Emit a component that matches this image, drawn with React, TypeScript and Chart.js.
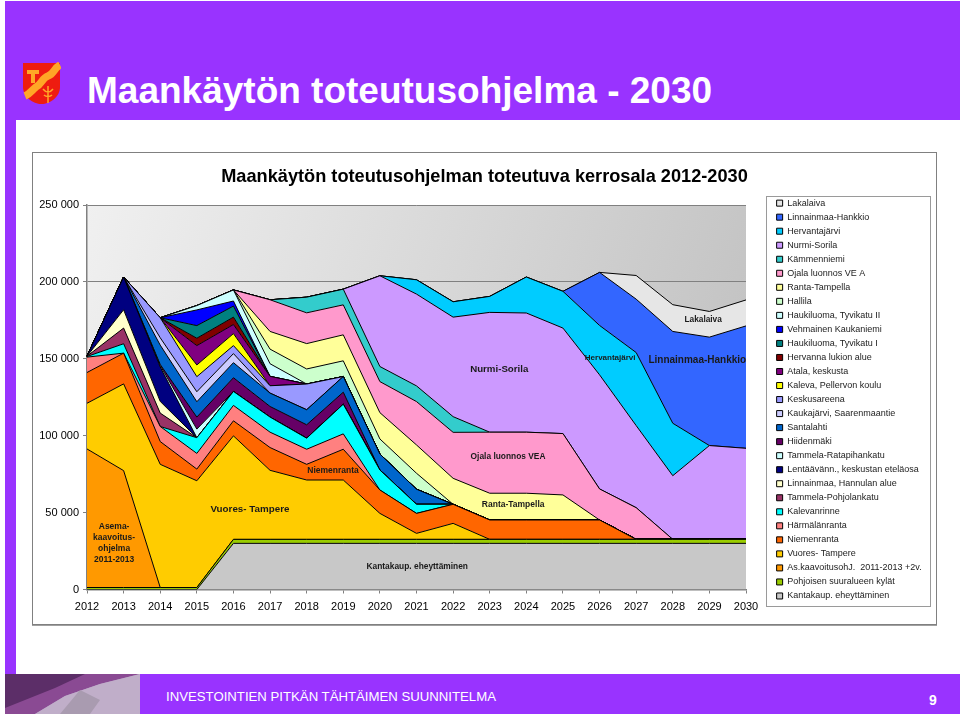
import React, { useEffect, useRef } from "react";
import { Chart, registerables } from "chart.js";

Chart.register(...registerables);

const years = ["2012","2013","2014","2015","2016","2017","2018","2019","2020","2021","2022","2023","2024","2025","2026","2027","2028","2029","2030"];

const kantakaup = [0,0,0,0,30000,30000,30000,30000,30000,30000,30000,30000,30000,30000,30000,30000,30000,30000,30000];
const pohjoisen = [1300,1300,1300,1300,2600,2600,2600,2600,2600,2600,2600,2600,2600,2600,2600,2600,2600,2600,2600];
const asKaavoitus = [90100,76000,0,0,0,0,0,0,0,0,0,0,0,0,0,0,0,0,0];
const vuores = [29700,56400,80100,69400,67300,44900,38600,38600,16900,3900,10400,0,0,0,0,0,0,0,0];
const niemenranta = [20000,20000,14800,7600,9800,14800,10200,20000,15200,13000,12400,12600,12600,12600,12600,0,0,0,0];
const harmalanranta = [10000,0,9800,10200,10000,10000,9800,10000,0,0,0,0,0,0,0,0,0,0,0];
const kalevanrinne = [400,6100,0,10200,9100,9800,7200,19300,13000,5900,0,0,0,0,0,0,0,0,0];
const tammelaPohjolankatu = [200,10200,8700,0,0,0,0,0,0,0,0,0,0,0,0,0,0,0,0];
const linnainmaaHannula = [0,11900,7600,0,0,0,0,0,0,0,0,0,0,0,0,0,0,0,0];
const lentoasema = [0,21300,22400,0,0,0,0,0,0,0,0,0,0,0,0,0,0,0,0];
const tammelaRatapiha = [0,0,900,5600,0,0,0,0,0,0,0,0,0,0,0,0,0,0,0];
const hiidenmaki = [0,0,700,7800,8900,6900,8700,7800,0,0,0,0,0,0,0,0,0,0,0];
const santalahti = [0,0,12600,10000,9800,8700,9800,10200,10400,9800,0,0,0,0,0,0,0,0,0];
const kaukajarvi = [0,0,4800,6500,5900,0,0,0,0,0,0,0,0,0,0,0,0,0,0];
const keskusareena = [0,0,13000,9800,5200,4800,16700,0,0,0,0,0,0,0,0,0,0,0,0];
const kaleva = [0,0,0,7600,7800,0,0,0,0,0,0,0,0,0,0,0,0,0,0];
const atala = [0,0,0,12600,5900,6100,0,0,0,0,0,0,0,0,0,0,0,0,0];
const hervannaLukio = [0,0,0,4800,4800,0,0,0,0,0,0,0,0,0,0,0,0,0,0];
const haukiluomaI = [0,0,0,8200,7200,0,0,0,0,0,0,0,0,0,0,0,0,0,0];
const vehmainen = [0,0,0,10200,3300,0,0,0,0,0,0,0,0,0,0,0,0,0,0];
const haukiluomaII = [0,0,0,2800,7200,8200,0,0,0,0,0,0,0,0,0,0,0,0,0];
const hallila = [0,0,0,0,0,9500,9800,10200,9800,10400,0,0,0,0,0,0,0,0,0];
const rantaTampella = [0,0,0,0,0,11500,16500,16900,17100,18400,16900,17400,17400,16300,0,0,0,0,0];
const ojala = [0,0,0,0,0,20600,20000,19500,20200,28200,29900,39700,39700,39900,20200,20600,0,0,0];
const kammenniemi = [0,0,0,0,0,0,10200,10200,9800,10200,10200,0,0,0,0,0,0,0,0];
const nurmiSorila = [0,0,0,0,0,0,0,0,59000,59700,64700,77900,77500,68600,74200,53400,41400,61000,59200];
const hervantajarvi = [0,0,0,0,0,0,0,0,0,9300,10000,10400,23400,23900,32100,47500,34100,0,0];
const linnainmaaHankkio = [0,0,0,0,0,0,0,0,0,0,0,0,0,0,34500,34700,59700,70500,79600];
const lakalaiva = [0,0,0,0,0,0,0,0,0,0,0,0,0,0,0,15400,17400,16700,16900];

const seriesTable: [string, number[], string][] = [
  ["Kantakaup. eheyttäminen", kantakaup, "#C8C8C8"],
  ["Pohjoisen suuralueen kylät", pohjoisen, "#99CC00"],
  ["As.kaavoitusohJ.  2011-2013 +2v.", asKaavoitus, "#FF9900"],
  ["Vuores- Tampere", vuores, "#FFCC00"],
  ["Niemenranta", niemenranta, "#FF6600"],
  ["Härmälänranta", harmalanranta, "#FF8080"],
  ["Kalevanrinne", kalevanrinne, "#00FFFF"],
  ["Tammela-Pohjolankatu", tammelaPohjolankatu, "#993366"],
  ["Linnainmaa, Hannulan alue", linnainmaaHannula, "#FFFFCC"],
  ["Lentäävänn., keskustan eteläosa", lentoasema, "#000080"],
  ["Tammela-Ratapihankatu", tammelaRatapiha, "#CCFFFF"],
  ["Hiidenmäki", hiidenmaki, "#660066"],
  ["Santalahti", santalahti, "#0066CC"],
  ["Kaukajärvi, Saarenmaantie", kaukajarvi, "#CCCCFF"],
  ["Keskusareena", keskusareena, "#9999FF"],
  ["Kaleva, Pellervon koulu", kaleva, "#FFFF00"],
  ["Atala, keskusta", atala, "#800080"],
  ["Hervanna lukion alue", hervannaLukio, "#800000"],
  ["Haukiluoma, Tyvikatu I", haukiluomaI, "#008080"],
  ["Vehmainen Kaukaniemi", vehmainen, "#0000FF"],
  ["Haukiluoma, Tyvikatu II", haukiluomaII, "#CCFFFF"],
  ["Hallila", hallila, "#CCFFCC"],
  ["Ranta-Tampella", rantaTampella, "#FFFF99"],
  ["Ojala luonnos VE A", ojala, "#FF99CC"],
  ["Kämmenniemi", kammenniemi, "#33CCCC"],
  ["Nurmi-Sorila", nurmiSorila, "#CC99FF"],
  ["Hervantajärvi", hervantajarvi, "#00CCFF"],
  ["Linnainmaa-Hankkio", linnainmaaHankkio, "#3366FF"],
  ["Lakalaiva", lakalaiva, "#E6E6E6"],
];

// [text lines, year index, value, font size]
const areaLabels: [string[], number, number, number][] = [
  [["Asema-", "kaavoitus-", "ohjelma", "2011-2013"], 0.74, 30200, 8.5],
  [["Vuores- Tampere"], 4.45, 52300, 9.8],
  [["Niemenranta"], 6.72, 77000, 8.5],
  [["Kantakaup. eheyttäminen"], 9.02, 14600, 8.4],
  [["Ranta-Tampella"], 11.64, 54900, 8.5],
  [["Ojala luonnos VEA"], 11.5, 86100, 8.4],
  [["Nurmi-Sorila"], 11.26, 143300, 9.7],
  [["Hervantajärvi"], 14.29, 150500, 8],
  [["Linnainmaa-Hankkio"], 16.67, 149200, 10],
  [["Lakalaiva"], 16.83, 175200, 8.3],
];

const FONT = '"Liberation Sans", Arial, sans-serif';
const PURPLE = "#9933FF";
const CANVAS_W = 903;
const CANVAS_H = 471;

const chromePlugin = {
  id: "chrome",
  beforeLayout(chart: any) {
    const leg = chart.legend;
    if (leg && !leg.__patched) {
      const fit = leg.fit;
      leg.fit = function () {
        fit.call(this);
        this.width = 190;
      };
      leg.__patched = true;
    }
  },
  beforeDraw(chart: any) {
    const { ctx, chartArea: a, legend } = chart;
    const g = ctx.createLinearGradient(a.left, a.top, a.right, a.top + 200);
    g.addColorStop(0, "#F0F0F0");
    g.addColorStop(1, "#C2C2C2");
    ctx.save();
    ctx.fillStyle = g;
    ctx.fillRect(a.left, a.top, a.right - a.left, a.bottom - a.top);
    ctx.strokeStyle = "#9A9A9A";
    ctx.lineWidth = 1;
    ctx.strokeRect(733.5, 43.5, 164, 410);
    ctx.restore();
    if (legend) {
      legend.left = 738.6;
      legend.right = CANVAS_W;
      legend.top = 40.6;
      legend.bottom = CANVAS_H;
    }
  },
  afterDatasetsDraw(chart: any) {
    const { ctx, scales } = chart;
    ctx.save();
    ctx.textAlign = "center";
    ctx.textBaseline = "middle";
    ctx.fillStyle = "#1A1A1A";
    for (const [lines, xi, v, size] of areaLabels) {
      const x = scales.x.getPixelForValue(xi);
      const y = scales.y.getPixelForValue(v);
      const lh = size + 2.4;
      ctx.font = `bold ${size}px ${FONT}`;
      lines.forEach((t, i) => ctx.fillText(t, x, y + (i - (lines.length - 1) / 2) * lh));
    }
    ctx.restore();
  },
};

function Logo() {
  return (
    <svg width="39" height="43" viewBox="0 0 39 43" style={{ position: "absolute", left: 22, top: 61.5 }}>
      <path d="M1 1 L38 1 L38 25 C38 35 28 42 19.5 42 C11 42 1 35 1 25 Z" fill="#EE1C10" />
      <path d="M38 3 C32 6 32 12 26 14 C20 16 20 22 14 25 C10 28 8 32 3 34" stroke="#FFA726" strokeWidth="7.5" fill="none" />
      <path d="M5 8 H17 V12 H13 V21 H9 V12 H5 Z" fill="#FFA726" />
      <path d="M26 24 V41 M21 27 C24 31 28 31 31 27 M22 33 C24 35 28 35 30 33" stroke="#FFA726" strokeWidth="1.5" fill="none" />
    </svg>
  );
}

function FooterArt() {
  return (
    <svg width="135" height="40" viewBox="0 0 135 40" style={{ position: "absolute", left: 5, top: 674 }}>
      <rect width="135" height="40" fill="#B59AC4" />
      <path d="M0 0 H135 L95 10 L60 22 L30 40 H0 Z" fill="#8A4A93" />
      <path d="M0 0 H80 L50 14 L20 26 L0 34 Z" fill="#5C2E68" />
      <path d="M30 40 L60 22 L95 10 L135 0 V40 Z" fill="#C0AEC9" />
      <path d="M75 16 L95 26 L85 40 H55 Z" fill="#A99BB0" />
    </svg>
  );
}

export default function App() {
  const ref = useRef<HTMLCanvasElement>(null);
  useEffect(() => {
    const chart = new Chart(ref.current as HTMLCanvasElement, {
      type: "line",
      data: {
        labels: years,
        datasets: seriesTable.map(([label, data, color], i) => ({
          label,
          data,
          backgroundColor: color,
          borderColor: "#000000",
          borderWidth: 1,
          pointRadius: 0,
          tension: 0,
          fill: i === 0 ? "origin" : "-1",
        })),
      },
      options: {
        animation: false,
        responsive: false,
        layout: { padding: 0 },
        plugins: {
          title: {
            display: true,
            text: "Maankäytön toteutusohjelman toteutuva kerrosala 2012-2030",
            color: "#000000",
            font: { family: FONT, size: 18.2, weight: "bold" },
            padding: { top: 13, bottom: 17.2 },
          },
          legend: {
            position: "right",
            align: "start",
            reverse: true,
            labels: {
              boxWidth: 6,
              boxHeight: 6,
              padding: 5.03,
              color: "#222222",
              font: { family: FONT, size: 9, lineHeight: 1 },
            },
          },
          tooltip: { enabled: false },
        },
        scales: {
          x: {
            offset: false,
            grid: { drawOnChartArea: false, drawTicks: true, tickLength: 4, color: "#808080" },
            border: { color: "#808080", width: 1.5 },
            ticks: { color: "#000000", autoSkip: false, maxRotation: 0, padding: 7, font: { family: FONT, size: 11 } },
            afterFit(axis: any) {
              axis.height = 34.5;
            },
          },
          y: {
            stacked: true,
            min: 0,
            max: 250000,
            grid: { color: "#808080", tickLength: 4 },
            border: { color: "#808080", width: 1.5 },
            ticks: {
              stepSize: 50000,
              padding: 4,
              color: "#000000",
              font: { family: FONT, size: 11 },
              callback: (v: any) => (v === 0 ? "0" : `${Math.round(Number(v) / 1000)} 000`),
            },
            afterFit(axis: any) {
              axis.width = 54;
            },
          },
        },
      },
      plugins: [chromePlugin],
    } as any);
    return () => chart.destroy();
  }, []);

  const abs = (left: number, top: number, width: number, height: number, bg: string): React.CSSProperties => ({
    position: "absolute",
    left,
    top,
    width,
    height,
    background: bg,
  });

  return (
    <div style={{ position: "absolute", left: 0, top: 0, width: 960, height: 716, background: "#FFFFFF", overflow: "hidden", fontFamily: FONT }}>
      <div style={abs(5, 1, 955, 119, PURPLE)} />
      <div style={abs(5, 120, 11, 554, PURPLE)} />
      <Logo />
      <div style={{ position: "absolute", left: 87, top: 70, color: "#FFFFFF", fontWeight: "bold", fontSize: 37, lineHeight: "42px", whiteSpace: "nowrap" }}>
        Maankäytön toteutusohjelma - 2030
      </div>
      <div style={{ position: "absolute", left: 32, top: 152, width: 903, height: 471, border: "1px solid #808080", boxShadow: "0 1px 0 #A0A0A0", background: "#FFFFFF" }}>
        <canvas ref={ref} width={CANVAS_W} height={CANVAS_H} style={{ display: "block" }} />
      </div>
      <div style={abs(5, 674, 955, 40, PURPLE)} />
      <FooterArt />
      <div style={{ position: "absolute", left: 166, top: 689, color: "#FFFFFF", fontSize: 13.2, lineHeight: "16px", whiteSpace: "nowrap" }}>
        INVESTOINTIEN PITKÄN TÄHTÄIMEN SUUNNITELMA
      </div>
      <div style={{ position: "absolute", left: 929, top: 692, color: "#FFFFFF", fontSize: 14, fontWeight: "bold", lineHeight: "16px" }}>9</div>
    </div>
  );
}
